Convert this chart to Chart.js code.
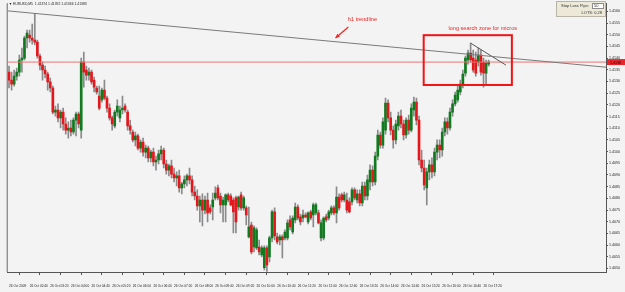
<!DOCTYPE html>
<html>
<head>
<meta charset="utf-8">
<script src="https://cdn.jsdelivr.net/npm/chart.js@4.4.1/dist/chart.umd.min.js"></script>
<style>
  html, body { margin: 0; padding: 0; background: #f3f3f3; }
  canvas { display: block; }
</style>
</head>
<body>
<canvas id="chart" width="625" height="292"></canvas>
<script>
const symbol = 'EURUSD,M5'

// one label every 8 bars (40 min)
const timeLabels = ['26 Oct 2009', '26 Oct 02:40', '26 Oct 03:20', '26 Oct 04:00', '26 Oct 04:40', '26 Oct 05:20',
    '26 Oct 06:00', '26 Oct 06:40', '26 Oct 07:20', '26 Oct 08:00', '26 Oct 08:40', '26 Oct 09:20',
    '26 Oct 10:00', '26 Oct 10:40', '26 Oct 11:20', '26 Oct 12:00', '26 Oct 12:40', '26 Oct 13:20',
    '26 Oct 14:00', '26 Oct 14:40', '26 Oct 15:20', '26 Oct 16:00', '26 Oct 16:40', '26 Oct 17:20']

const priceTicks = [1.4050, 1.4055, 1.4060, 1.4065, 1.4070, 1.4075, 1.4080, 1.4085, 1.4090, 1.4095, 1.4100, 1.4105,
    1.4110, 1.4115, 1.4120, 1.4125, 1.4130, 1.4135, 1.4140, 1.4145, 1.4150, 1.4155, 1.4160]

const opens = [
    1.41340, 1.41306, 1.41289, 1.41323, 1.41340, 1.41392, 1.41400, 1.41486, 1.41498, 1.41486,
    1.41477, 1.41468, 1.41409, 1.41370, 1.41349, 1.41332, 1.41298, 1.41272, 1.41169, 1.41178,
    1.41144, 1.41169, 1.41118, 1.41092, 1.41101, 1.41084, 1.41135, 1.41161, 1.41092, 1.41383,
    1.41349, 1.41327, 1.41340, 1.41306, 1.41272, 1.41238, 1.41221, 1.41263, 1.41229, 1.41186,
    1.41144, 1.41110, 1.41169, 1.41144, 1.41178, 1.41195, 1.41169, 1.41110, 1.41084, 1.41050,
    1.41067, 1.41015, 1.41041, 1.40998, 1.41015, 1.40973, 1.40998, 1.40956, 1.40964, 1.40990,
    1.41007, 1.40947, 1.40921, 1.40939, 1.40904, 1.40887, 1.40896, 1.40845, 1.40862, 1.40879,
    1.40896, 1.40879, 1.40827, 1.40810, 1.40768, 1.40793, 1.40750, 1.40793, 1.40759, 1.40763,
    1.40802, 1.40845, 1.40810, 1.40772, 1.40772, 1.40815, 1.40810, 1.40793, 1.40802, 1.40763,
    1.40815, 1.40759, 1.40759, 1.40635, 1.40686, 1.40592, 1.40588, 1.40592, 1.40558, 1.40503,
    1.40588, 1.40550, 1.40631, 1.40742, 1.40635, 1.40622, 1.40635, 1.40631, 1.40631, 1.40708,
    1.40656, 1.40708, 1.40763, 1.40721, 1.40716, 1.40729, 1.40699, 1.40742, 1.40729, 1.40738,
    1.40738, 1.40631, 1.40631, 1.40721, 1.40716, 1.40738, 1.40759, 1.40738, 1.40806, 1.40815,
    1.40793, 1.40793, 1.40785, 1.40785, 1.40836, 1.40793, 1.40819, 1.40780, 1.40853, 1.40810,
    1.40870, 1.40921, 1.40870, 1.40981, 1.41071, 1.41028, 1.41092, 1.41208, 1.41144, 1.41092,
    1.41050, 1.41110, 1.41152, 1.41118, 1.41071, 1.41135, 1.41092, 1.41178, 1.41212, 1.41135,
    1.40964, 1.40930, 1.40845, 1.40913, 1.40943, 1.40913, 1.40998, 1.41028, 1.41007, 1.41084,
    1.41127, 1.41101, 1.41169, 1.41204, 1.41221, 1.41255, 1.41289, 1.41336, 1.41392, 1.41421,
    1.41400, 1.41392, 1.41383, 1.41413, 1.41383, 1.41336, 1.41374]

const highs = [
    1.41366, 1.41340, 1.41349, 1.41357, 1.41413, 1.41443, 1.41494, 1.41520, 1.41520, 1.41545,
    1.41592, 1.41477, 1.41417, 1.41383, 1.41366, 1.41340, 1.41315, 1.41280, 1.41195, 1.41204,
    1.41178, 1.41186, 1.41144, 1.41127, 1.41135, 1.41144, 1.41169, 1.41169, 1.41400, 1.41426,
    1.41366, 1.41357, 1.41349, 1.41319, 1.41280, 1.41280, 1.41272, 1.41306, 1.41238, 1.41204,
    1.41152, 1.41178, 1.41221, 1.41195, 1.41238, 1.41204, 1.41178, 1.41135, 1.41092, 1.41084,
    1.41075, 1.41050, 1.41058, 1.41028, 1.41024, 1.41007, 1.41015, 1.40981, 1.41007, 1.41024,
    1.41015, 1.40964, 1.40947, 1.40964, 1.40930, 1.40913, 1.40921, 1.40870, 1.40896, 1.40904,
    1.40930, 1.40896, 1.40853, 1.40836, 1.40810, 1.40819, 1.40810, 1.40823, 1.40772, 1.40823,
    1.40849, 1.40857, 1.40823, 1.40806, 1.40819, 1.40823, 1.40819, 1.40802, 1.40810, 1.40810,
    1.40827, 1.40810, 1.40768, 1.40763, 1.40699, 1.40682, 1.40674, 1.40622, 1.40597, 1.40597,
    1.40597, 1.40639, 1.40750, 1.40759, 1.40652, 1.40644, 1.40644, 1.40665, 1.40708, 1.40725,
    1.40725, 1.40780, 1.40772, 1.40733, 1.40750, 1.40738, 1.40742, 1.40750, 1.40780, 1.40780,
    1.40750, 1.40708, 1.40721, 1.40733, 1.40750, 1.40768, 1.40768, 1.40849, 1.40819, 1.40823,
    1.40827, 1.40823, 1.40802, 1.40845, 1.40845, 1.40836, 1.40836, 1.40870, 1.40870, 1.40900,
    1.40943, 1.40939, 1.40998, 1.41092, 1.41084, 1.41144, 1.41229, 1.41221, 1.41169, 1.41110,
    1.41135, 1.41169, 1.41178, 1.41135, 1.41144, 1.41156, 1.41204, 1.41233, 1.41229, 1.41152,
    1.41007, 1.40964, 1.40930, 1.40964, 1.40973, 1.41015, 1.41050, 1.41050, 1.41101, 1.41144,
    1.41144, 1.41186, 1.41221, 1.41255, 1.41280, 1.41306, 1.41349, 1.41409, 1.41434, 1.41464,
    1.41434, 1.41426, 1.41443, 1.41434, 1.41400, 1.41392, 1.41392]

const lows = [
    1.41272, 1.41263, 1.41280, 1.41306, 1.41323, 1.41340, 1.41392, 1.41443, 1.41468, 1.41460,
    1.41456, 1.41400, 1.41349, 1.41306, 1.41315, 1.41263, 1.41255, 1.41161, 1.41152, 1.41127,
    1.41101, 1.41092, 1.41075, 1.41058, 1.41067, 1.41075, 1.41067, 1.41101, 1.41058, 1.41276,
    1.41306, 1.41306, 1.41289, 1.41255, 1.41246, 1.41178, 1.41212, 1.41221, 1.41169, 1.41135,
    1.41092, 1.41101, 1.41152, 1.41127, 1.41161, 1.41169, 1.41092, 1.41075, 1.41041, 1.41024,
    1.41007, 1.40998, 1.40981, 1.40973, 1.40956, 1.40956, 1.40939, 1.40921, 1.40947, 1.40964,
    1.40930, 1.40904, 1.40896, 1.40887, 1.40870, 1.40853, 1.40827, 1.40819, 1.40845, 1.40853,
    1.40862, 1.40810, 1.40793, 1.40750, 1.40699, 1.40682, 1.40733, 1.40699, 1.40733, 1.40708,
    1.40793, 1.40793, 1.40738, 1.40699, 1.40699, 1.40785, 1.40768, 1.40652, 1.40652, 1.40750,
    1.40750, 1.40750, 1.40686, 1.40631, 1.40562, 1.40571, 1.40580, 1.40558, 1.40550, 1.40494,
    1.40487, 1.40528, 1.40614, 1.40622, 1.40605, 1.40601, 1.40545, 1.40622, 1.40622, 1.40665,
    1.40648, 1.40695, 1.40708, 1.40686, 1.40699, 1.40716, 1.40691, 1.40708, 1.40678, 1.40729,
    1.40691, 1.40618, 1.40622, 1.40699, 1.40708, 1.40729, 1.40729, 1.40695, 1.40750, 1.40785,
    1.40785, 1.40738, 1.40738, 1.40772, 1.40793, 1.40780, 1.40768, 1.40768, 1.40793, 1.40793,
    1.40836, 1.40853, 1.40857, 1.40964, 1.41015, 1.41015, 1.41075, 1.41127, 1.41071, 1.41015,
    1.41033, 1.41092, 1.41101, 1.41050, 1.41058, 1.41075, 1.41084, 1.41152, 1.41114, 1.40943,
    1.40913, 1.40836, 1.40772, 1.40879, 1.40887, 1.40896, 1.40964, 1.40973, 1.40981, 1.41067,
    1.41075, 1.41092, 1.41152, 1.41195, 1.41212, 1.41242, 1.41272, 1.41323, 1.41374, 1.41383,
    1.41340, 1.41323, 1.41366, 1.41327, 1.41276, 1.41285, 1.41366]

const closes = [
    1.41306, 1.41289, 1.41323, 1.41340, 1.41392, 1.41400, 1.41486, 1.41507, 1.41486, 1.41477,
    1.41468, 1.41409, 1.41370, 1.41349, 1.41332, 1.41298, 1.41272, 1.41169, 1.41178, 1.41144,
    1.41169, 1.41118, 1.41092, 1.41101, 1.41084, 1.41135, 1.41161, 1.41118, 1.41383, 1.41340,
    1.41327, 1.41340, 1.41298, 1.41276, 1.41255, 1.41186, 1.41263, 1.41229, 1.41186, 1.41144,
    1.41118, 1.41169, 1.41195, 1.41178, 1.41186, 1.41178, 1.41110, 1.41092, 1.41050, 1.41067,
    1.41015, 1.41041, 1.40998, 1.41015, 1.40973, 1.40998, 1.40956, 1.40964, 1.40990, 1.41007,
    1.40947, 1.40921, 1.40939, 1.40904, 1.40887, 1.40896, 1.40845, 1.40862, 1.40879, 1.40896,
    1.40879, 1.40827, 1.40810, 1.40768, 1.40793, 1.40750, 1.40793, 1.40738, 1.40742, 1.40793,
    1.40823, 1.40802, 1.40772, 1.40793, 1.40815, 1.40793, 1.40772, 1.40742, 1.40699, 1.40806,
    1.40759, 1.40802, 1.40729, 1.40678, 1.40571, 1.40674, 1.40665, 1.40571, 1.40588, 1.40588,
    1.40515, 1.40631, 1.40742, 1.40639, 1.40614, 1.40635, 1.40622, 1.40656, 1.40695, 1.40678,
    1.40716, 1.40763, 1.40716, 1.40699, 1.40729, 1.40721, 1.40738, 1.40716, 1.40772, 1.40772,
    1.40695, 1.40695, 1.40716, 1.40708, 1.40742, 1.40759, 1.40738, 1.40806, 1.40759, 1.40793,
    1.40815, 1.40750, 1.40742, 1.40836, 1.40802, 1.40819, 1.40780, 1.40853, 1.40810, 1.40879,
    1.40921, 1.40870, 1.40981, 1.41071, 1.41028, 1.41127, 1.41208, 1.41144, 1.41092, 1.41050,
    1.41118, 1.41152, 1.41118, 1.41071, 1.41135, 1.41092, 1.41186, 1.41212, 1.41135, 1.40964,
    1.40930, 1.40857, 1.40913, 1.40943, 1.40913, 1.40998, 1.41028, 1.41007, 1.41084, 1.41127,
    1.41101, 1.41169, 1.41204, 1.41242, 1.41263, 1.41289, 1.41332, 1.41400, 1.41421, 1.41392,
    1.41349, 1.41336, 1.41413, 1.41340, 1.41336, 1.41379, 1.41383]

const bidPrice = 1.41383

// drawn objects, in bar index / price units
const h1Trend = [{x: -0.5, y: 1.41602}, {x: 231.5, y: 1.41361}]
const microTrend = [{x: 179, y: 1.41464}, {x: 192.7, y: 1.41370}]
const searchZone = {x0: 160.8, x1: 195, top: 1.41498, bottom: 1.41285}
const notes = [
    {text: 'h1 trendline', x: 131.4, y: 1.41567},
    {text: 'long search zone for micros', x: 170.4, y: 1.41528},
]
const arrow = {from: {x: 131.6, y: 1.41533}, to: {x: 126.6, y: 1.41486}}

const barSlots = 232
const labelEvery = 8

const bullColor = '#107a1e'
const bearColor = '#e5161c'
const wickColor = '#8a8a8a'
const noteColor = '#f02424'

Chart.defaults.font.family = '"Liberation Sans", Arial, sans-serif'

const wickData = highs.map((h, i) => ({x: i, y: [lows[i], h]}))
const bodyData = opens.map((o, i) => ({x: i, y: [o, closes[i]]}))
const bodyColors = opens.map((o, i) => closes[i] >= o ? bullColor : bearColor)

const overlay = {
    id: 'overlay',
    afterDatasetsDraw(chart) {
        const {ctx, scales: {x, y}} = chart
        ctx.save()

        // search zone box
        const bx0 = x.getPixelForValue(searchZone.x0)
        const bx1 = x.getPixelForValue(searchZone.x1)
        const by0 = y.getPixelForValue(searchZone.top)
        const by1 = y.getPixelForValue(searchZone.bottom)
        ctx.strokeStyle = '#f01414'
        ctx.lineWidth = 2
        ctx.strokeRect(bx0, by0, bx1 - bx0, by1 - by0)

        // notes
        ctx.fillStyle = noteColor
        ctx.font = '5.6px "Liberation Sans", Arial, sans-serif'
        ctx.textBaseline = 'middle'
        notes.forEach(n => {
            ctx.fillText(n.text, x.getPixelForValue(n.x), y.getPixelForValue(n.y))
        })

        // arrow
        const ax0 = x.getPixelForValue(arrow.from.x), ay0 = y.getPixelForValue(arrow.from.y)
        const ax1 = x.getPixelForValue(arrow.to.x), ay1 = y.getPixelForValue(arrow.to.y)
        const ang = Math.atan2(ay1 - ay0, ax1 - ax0)
        ctx.strokeStyle = noteColor
        ctx.lineWidth = 1.2
        ctx.beginPath()
        ctx.moveTo(ax0, ay0)
        ctx.lineTo(ax1, ay1)
        ctx.stroke()
        ctx.beginPath()
        ctx.moveTo(ax1, ay1)
        ctx.lineTo(ax1 - 4.5 * Math.cos(ang - 0.45), ay1 - 4.5 * Math.sin(ang - 0.45))
        ctx.lineTo(ax1 - 4.5 * Math.cos(ang + 0.45), ay1 - 4.5 * Math.sin(ang + 0.45))
        ctx.closePath()
        ctx.fill()

        ctx.restore()
    },
    afterDraw(chart) {
        const {ctx, chartArea, scales: {y}} = chart
        ctx.save()

        // left frame
        ctx.fillStyle = '#6a6a6a'
        ctx.fillRect(chartArea.left - 1, chartArea.top, 1, chartArea.bottom - chartArea.top)

        // header
        const last = opens.length - 1
        ctx.fillStyle = '#222'
        ctx.font = '3.4px "Liberation Sans", Arial, sans-serif'
        ctx.textBaseline = 'middle'
        ctx.fillText('\u25BC ' + symbol + '  ' + opens[last].toFixed(5) + ' ' + highs[last].toFixed(5) + ' ' +
            lows[last].toFixed(5) + ' ' + closes[last].toFixed(5), chartArea.left + 1, 4)

        // bid label on price axis
        const py = y.getPixelForValue(bidPrice)
        ctx.fillStyle = '#e8262b'
        ctx.fillRect(chartArea.right + 1, py - 3, 18, 6)
        ctx.fillStyle = '#111'
        ctx.font = '3.6px "Liberation Sans", Arial, sans-serif'
        ctx.fillText(bidPrice.toFixed(4), chartArea.right + 4, py + 0.5)

        // stop loss panel
        const px = chartArea.right - 50
        ctx.fillStyle = '#ece9d8'
        ctx.fillRect(px, 1, 50, 16)
        ctx.strokeStyle = '#b8b5a6'
        ctx.lineWidth = 1
        ctx.strokeRect(px + 0.5, 1.5, 49, 15)
        ctx.fillStyle = '#fff'
        ctx.fillRect(px + 36, 3, 12, 6)
        ctx.strokeStyle = '#8c8c8c'
        ctx.strokeRect(px + 36.5, 3.5, 11, 5)
        ctx.fillStyle = '#333'
        ctx.font = '4px "Liberation Sans", Arial, sans-serif'
        ctx.fillText('Stop Loss Pips:', px + 5, 6.3)
        ctx.fillText('50', px + 38, 6.3)
        ctx.textAlign = 'right'
        ctx.fillText('LOTS: 0.28', px + 46, 12.8)

        ctx.restore()
    }
}

new Chart(document.getElementById('chart'), {
    type: 'bar',
    data: {
        datasets: [
            {
                type: 'line',
                data: h1Trend,
                borderColor: '#7a7a7a',
                borderWidth: 1,
                pointRadius: 0,
                order: 0,
            },
            {
                type: 'line',
                data: microTrend,
                borderColor: '#555',
                borderWidth: 1,
                pointRadius: 0,
                order: 0,
            },
            {
                type: 'line',
                data: [{x: -0.5, y: bidPrice}, {x: barSlots - 0.5, y: bidPrice}],
                borderColor: '#f07272',
                borderWidth: 1,
                pointRadius: 0,
                order: 1,
            },
            {
                data: bodyData,
                backgroundColor: bodyColors,
                barThickness: 2,
                minBarLength: 1,
                grouped: false,
                order: 2,
            },
            {
                data: wickData,
                backgroundColor: wickColor,
                barThickness: 1,
                grouped: false,
                order: 3,
            },
        ]
    },
    options: {
        responsive: false,
        animation: false,
        events: [],
        layout: {
            padding: {left: 2, top: 3, right: 0, bottom: 0},
        },
        plugins: {
            legend: {display: false},
            tooltip: {enabled: false},
        },
        scales: {
            x: {
                type: 'linear',
                min: -0.5,
                max: barSlots - 0.5,
                offset: false,
                afterBuildTicks: (scale) => {
                    scale.ticks = timeLabels.map((t, k) => ({value: k * labelEvery}))
                },
                afterFit: (scale) => { scale.height = 20 },
                grid: {
                    drawOnChartArea: false,
                    tickLength: 3,
                    color: '#555',
                },
                border: {color: '#555'},
                ticks: {
                    autoSkip: false,
                    maxRotation: 0,
                    align: 'start',
                    padding: 9,
                    color: '#222',
                    font: {size: 3.2},
                    callback: (v) => timeLabels[Math.round(v / labelEvery)],
                },
            },
            y: {
                position: 'right',
                min: 1.40485,
                max: 1.41635,
                afterBuildTicks: (scale) => {
                    scale.ticks = priceTicks.map(v => ({value: v}))
                },
                afterFit: (scale) => { scale.width = 19 },
                grid: {
                    drawOnChartArea: false,
                    tickLength: 2,
                    color: '#555',
                },
                border: {color: '#555'},
                ticks: {
                    padding: 1,
                    crossAlign: 'near',
                    color: '#222',
                    font: {size: 3.6},
                    callback: (v) => v.toFixed(4),
                },
            },
        }
    },
    plugins: [overlay],
})
</script>
</body>
</html>
